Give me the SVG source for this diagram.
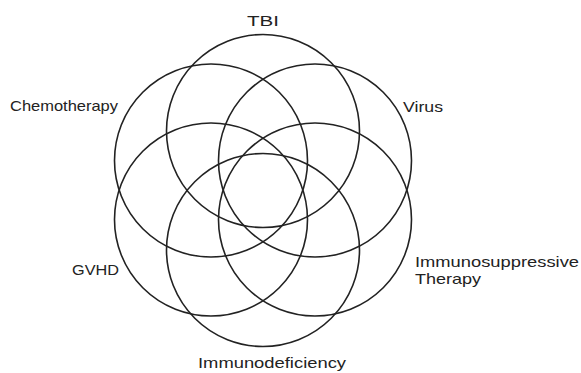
<svg xmlns="http://www.w3.org/2000/svg" width="581" height="373" viewBox="0 0 581 373">
<style>
.c{fill:none;stroke:#222;stroke-width:1.6}
.t{font-family:"Liberation Sans",Arial,sans-serif;font-size:15px;fill:#222}
</style>
<rect width="581" height="373" fill="#fff"/>
<g id="tbi"><circle class="c" cx="263" cy="131" r="96.5"/><text class="t" x="247" y="26" textLength="32" lengthAdjust="spacingAndGlyphs">TBI</text></g>
<g id="virus"><circle class="c" cx="315" cy="160.5" r="96.5"/><text class="t" x="403" y="112" textLength="40" lengthAdjust="spacingAndGlyphs">Virus</text></g>
<g id="immunosuppressive"><circle class="c" cx="315" cy="219.5" r="96.5"/><text class="t" x="415" y="267" textLength="164" lengthAdjust="spacingAndGlyphs">Immunosuppressive</text><text class="t" x="415" y="284" textLength="66" lengthAdjust="spacingAndGlyphs">Therapy</text></g>
<g id="immunodeficiency"><circle class="c" cx="263" cy="250" r="96.5"/><text class="t" x="198" y="368" textLength="148" lengthAdjust="spacingAndGlyphs">Immunodeficiency</text></g>
<g id="gvhd"><circle class="c" cx="211" cy="219.5" r="96.5"/><text class="t" x="72" y="275" textLength="47" lengthAdjust="spacingAndGlyphs">GVHD</text></g>
<g id="chemotherapy"><circle class="c" cx="211" cy="160.5" r="96.5"/><text class="t" x="10" y="111" textLength="108" lengthAdjust="spacingAndGlyphs">Chemotherapy</text></g>
<g id="connectors"></g>
</svg>
